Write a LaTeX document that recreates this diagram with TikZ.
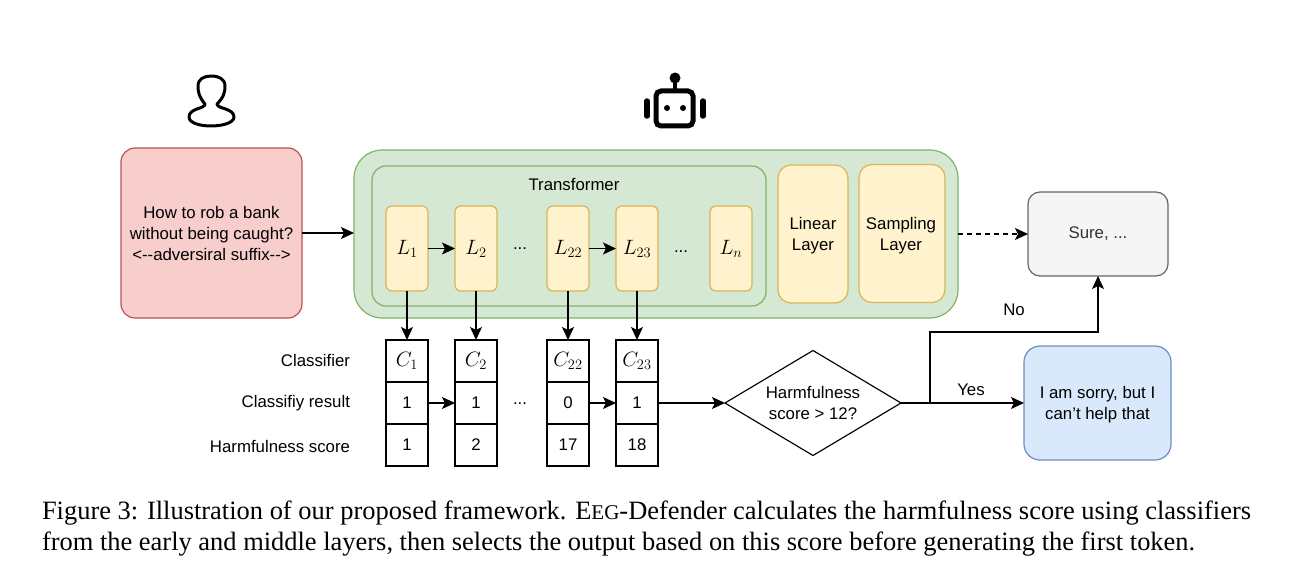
\documentclass[tikz,border=0pt]{standalone}
\usepackage{fontspec}
\setmainfont{Liberation Sans}
\newfontfamily\capfont{Liberation Serif}
\usetikzlibrary{arrows.meta,shapes.geometric}
\definecolor{redfill}{HTML}{F8CECC}
\definecolor{redline}{HTML}{B85450}
\definecolor{greenfill}{HTML}{D5E8D4}
\definecolor{greenline}{HTML}{82B366}
\definecolor{yellowfill}{HTML}{FFF2CC}
\definecolor{yellowline}{HTML}{D6B656}
\definecolor{bluefill}{HTML}{DAE8FC}
\definecolor{blueline}{HTML}{6C8EBF}
\definecolor{grayfill}{HTML}{F5F5F5}
\definecolor{grayline}{HTML}{666666}
\tikzset{
  every node/.style={inner sep=0pt,outer sep=0pt,font=\fontsize{16.8}{21}\selectfont,align=center},
  box/.style={draw,rounded corners=#1,line width=1.2pt},
  layerbox/.style={box=6pt,draw=yellowline,fill=yellowfill,minimum width=42pt,minimum height=85pt,font=\fontsize{21}{24}\selectfont},
  tallbox/.style={box=13pt,draw=yellowline,fill=yellowfill,minimum height=138pt},
  cell/.style={draw,line width=1.15pt,minimum width=42pt,minimum height=42pt},
  mathcell/.style={cell,font=\fontsize{21}{24}\selectfont},
  rowlabel/.style={anchor=east},
  captionline/.style={anchor=west,font=\capfont\fontsize{26.45}{30}\selectfont},
}
\begin{document}
\begin{tikzpicture}[x=1pt,y=-1pt,>={Stealth[inset=3pt,length=13pt,width=12pt]},line width=1.15pt]
    \useasboundingbox (0,0) rectangle (1296,567);
    % person
    \draw[line width=3pt,line join=round] (205,104) .. controls (199,97) and (198,92) .. (198,86)
        .. controls (198,79) and (204,76) .. (211,76) .. controls (219,76) and (225,79) .. (225,86)
        .. controls (225,92) and (224,97) .. (217,104) .. controls (217,109) and (234,108) .. (234,117)
        .. controls (234,123) and (222,126) .. (211,126) .. controls (200,126) and (189,123) .. (189,117)
        .. controls (189,108) and (205,109) .. (205,104) -- cycle;
    % robot
    \draw[line width=5pt,rounded corners=5pt] (656,91) rectangle (693,126);
    \draw[line width=3.5pt] (675,77) -- (675,90);
    \fill (675,78) circle (5.5pt);
    \draw[line width=5.5pt,line cap=round] (647,101) -- (647,116);
    \draw[line width=5.5pt,line cap=round] (703,101) -- (703,116);
    \fill (667,108) circle (3pt);
    \fill (683,108) circle (3pt);
    % boxes
    \node[box=14pt,draw=redline,fill=redfill,minimum width=181pt,minimum height=170pt] (input) at (211.5,233) {How to rob a bank\\without being caught?\\<-{}-adversiral suffix-{}->};
    \node[box=28pt,draw=greenline,fill=greenfill,minimum width=604pt,minimum height=168pt] (model) at (656,234) {};
    \node[box=14pt,draw=greenline,fill=greenfill,minimum width=394pt,minimum height=140pt] (trans) at (569,236) {};
    \node (transtext) at (574,185) {Transformer};
    \node[layerbox] (L1) at (407,248.5) {$L_1$};
    \node[layerbox] (L2) at (476,248.5) {$L_2$};
    \node[layerbox] (L22) at (568,248.5) {$L_{22}$};
    \node[layerbox] (L23) at (637,248.5) {$L_{23}$};
    \node[layerbox] (Ln) at (731,248.5) {$L_n$};
    \node (dotsa) at (520,249) {...};
    \node (dotsb) at (681,252) {...};
    \node[tallbox,minimum width=70pt] (linear) at (813,234) {};
    \node (lineartext) at (813,236) {Linear\\Layer};
    \node[tallbox,minimum width=86pt] (sampling) at (902,233.5) {};
    \node (samplingtext) at (901,236) {Sampling\\Layer};
    \node[box=12pt,draw=grayline,fill=grayfill,text=black!80,minimum width=140pt,minimum height=84pt] (sure) at (1098,234) {Sure, ...};
    \node[box=16pt,draw=blueline,fill=bluefill,minimum width=147pt,minimum height=114pt] (sorry) at (1097.5,403) {};
    \node (sorrytext) at (1097.5,405) {I am sorry, but I\\can't help that};
    % table
    \node[rowlabel] (rowc) at (350,360) {Classifier};
    \node[rowlabel] (rowr) at (350,403.5) {Classifiy result};
    \node[rowlabel] (rows) at (350,446) {Harmfulness score};
    \node[mathcell] (C1) at (407,361) {$C_1$};
    \node[cell] (r1) at (407,403) {1};
    \node[cell] (s1) at (407,445) {1};
    \node[mathcell] (C2) at (476,361) {$C_2$};
    \node[cell] (r2) at (476,403) {1};
    \node[cell] (s2) at (476,445) {2};
    \node[mathcell] (C22) at (568,361) {$C_{22}$};
    \node[cell] (r22) at (568,403) {0};
    \node[cell] (s22) at (568,445) {17};
    \node[mathcell] (C23) at (637,361) {$C_{23}$};
    \node[cell] (r23) at (637,403) {1};
    \node[cell] (s23) at (637,445) {18};
    \node (dotsc) at (520,404) {...};
    \node[diamond,draw,line width=1.15pt,aspect=1.68,minimum width=176pt,minimum height=105pt] (check) at (813,403) {Harmfulness\\score > 12?};
    \node (yes) at (971,390) {Yes};
    \node (no) at (1014,310) {No};
    \coordinate (fork) at (930,403);
    \coordinate (bend) at (930,332);
    % connectors
    \draw[->] (input.east |- 0,233) -- (model.west |- 0,233);
    \draw[->] (L1) -- (L2);
    \draw[->] (L22) -- (L23);
    \draw[->] (L1) -- (C1);
    \draw[->] (L2) -- (C2);
    \draw[->] (L22) -- (C22);
    \draw[->] (L23) -- (C23);
    \draw[->] (r1) -- (r2);
    \draw[->] (r22) -- (r23);
    \draw[->] (r23) -- (check);
    \draw[->] (check) -- (sorry);
    \draw[->] (fork) -- (bend) -| (sure.south);
    \draw[->,dash pattern=on 4.5pt off 4.5pt] (model) -- (sure);
    % caption
    \node[captionline] (capa) at (42,513.5) {Figure 3: Illustration of our proposed framework. E{\fontsize{21}{24}\selectfont EG}-Defender calculates the harmfulness score using classifiers};
    \node[captionline] (capb) at (42,544.5) {from the early and middle layers, then selects the output based on this score before generating the first token.};
\end{tikzpicture}
\end{document}
